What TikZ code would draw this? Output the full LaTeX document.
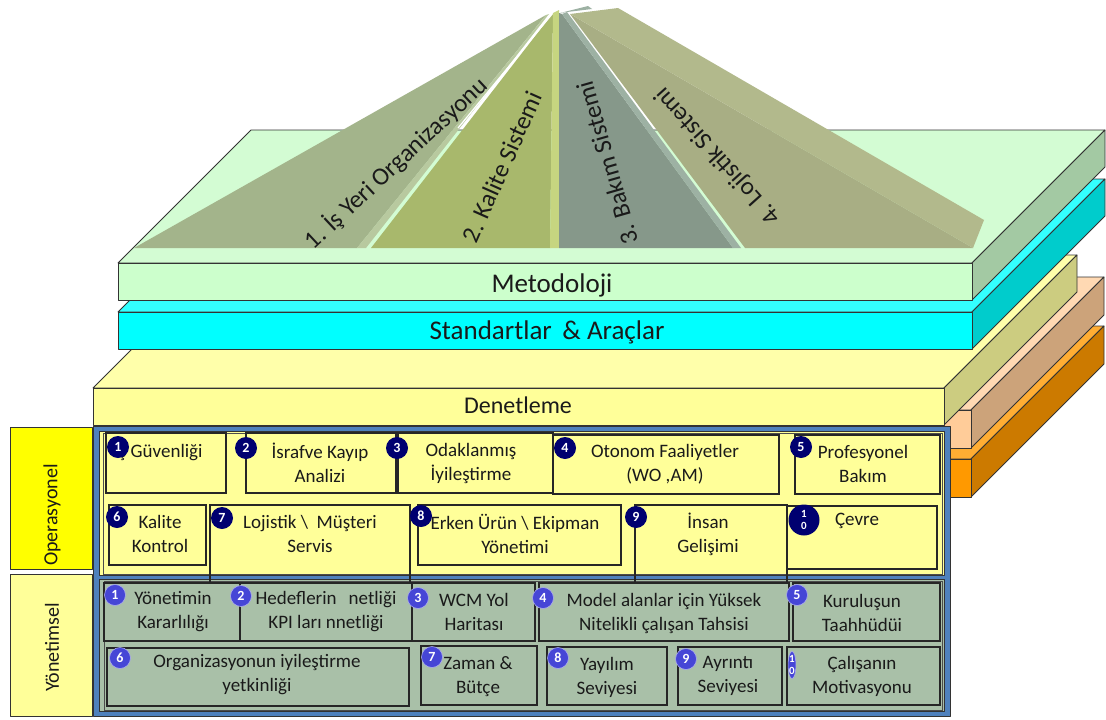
\documentclass[tikz,border=0pt]{standalone}
\usepackage{fontspec}
\setmainfont{Carlito}
\usetikzlibrary{shapes.geometric}

% slab colours
\definecolor{metfront}{HTML}{CCFFCC}\definecolor{mettop}{HTML}{D3FCD3}\definecolor{metside}{HTML}{A3C9A3}
\definecolor{cyfront}{HTML}{00FFFF}\definecolor{cytop}{HTML}{33FFFF}\definecolor{cyside}{HTML}{00CCCC}
\definecolor{yefront}{HTML}{FFFF99}\definecolor{yetop}{HTML}{FFFFAA}\definecolor{yeside}{HTML}{CCCC80}
\definecolor{pefront}{HTML}{FFCC99}\definecolor{petop}{HTML}{FFD9B3}\definecolor{peside}{HTML}{CCA37A}
\definecolor{orfront}{HTML}{FF9900}\definecolor{ortop}{HTML}{FFAD33}\definecolor{orside}{HTML}{CC7A00}
% pyramid colours
\definecolor{pyrA}{HTML}{A3B48B}\definecolor{pyrAs}{HTML}{B8C99F}
\definecolor{pyrB}{HTML}{A8B86C}\definecolor{pyrBs}{HTML}{C6D580}
\definecolor{pyrC}{HTML}{86988A}\definecolor{pyrCs}{HTML}{9DB1A3}
\definecolor{pyrD}{HTML}{A8AE84}\definecolor{pyrDs}{HTML}{B2B98C}
% frame colours
\definecolor{frameblue}{HTML}{4F81BD}
\definecolor{opfill}{HTML}{FFFF99}
\definecolor{mgfill}{HTML}{A9C0A8}
\definecolor{oplabel}{HTML}{FFFF00}
\definecolor{badgenavy}{HTML}{000070}
\definecolor{badgeblue}{HTML}{4646D6}
\definecolor{ink}{HTML}{1A1A1A}

% a 3D slab: x-left, y-top, x-right, y-bottom, front, top, side
\newcommand{\slabbox}[7]{%
  \filldraw[edge, fill=#6] (#1,#2) -- (#3,#2) -- (#3+133,#2-133) -- (#1+133,#2-133) -- cycle;
  \filldraw[edge, fill=#7] (#3,#2) -- (#3+133,#2-133) -- (#3+133,#4-133) -- (#3,#4) -- cycle;
  \filldraw[edge, fill=#5] (#1,#2) rectangle (#3,#4);
}

\begin{document}
\begin{tikzpicture}[x=1pt,y=-1pt,
  edge/.style={draw=black!80, line width=0.8pt, line join=round},
  cell/.style={draw=black!85, line width=1.1pt, rectangle, inner sep=0},
  txt/.style={font=\fontsize{19}{24}\selectfont, text=ink, align=center, inner sep=0},
  bigtxt/.style={font=\fontsize{27}{30}\selectfont, text=ink, inner sep=0},
  pyrtxt/.style={font=\fontsize{25}{28}\selectfont, text=ink, inner sep=0},
  sidetxt/.style={font=\fontsize{20}{22}\selectfont, text=ink, inner sep=0, rotate=90},
  obadge/.style={circle, fill=badgenavy, text=white, font=\bfseries\fontsize{14}{14}\selectfont, inner sep=0, minimum size=22pt},
  ybadge/.style={circle, fill=badgeblue, draw=white!55!badgeblue, line width=0.6pt, text=white, font=\bfseries\fontsize{14}{14}\selectfont, inner sep=0, minimum size=21pt},
  twodigit/.style={font=\bfseries\fontsize{11}{12}\selectfont, align=center}
]
\useasboundingbox (0,0) rectangle (1106,720);
\fill[white] (0,0) rectangle (1106,720);

% stacked slabs, lowest first
\slabbox{120}{459}{971}{497}{orfront}{ortop}{orside}
\slabbox{120}{410}{971}{448}{pefront}{petop}{peside}
\slabbox{93}{388}{944}{425}{yefront}{yetop}{yeside}
\slabbox{118}{312}{972}{349}{cyfront}{cytop}{cyside}
\slabbox{118}{263}{972}{300}{metfront}{mettop}{metside}

\node[bigtxt] (metodoloji) at (552,285) {Metodoloji};
\node[bigtxt] (standart) at (547,332) {Standartlar \,\& Araçlar};
\node[bigtxt, font=\fontsize{24}{26}\selectfont] (denetleme) at (518,405) {Denetleme};

% four pillars of the pyramid
\fill[pyrA] (134,248) -- (357,248) -- (546,15) -- cycle;
\fill[pyrAs] (357,248) -- (366,248) -- (549,14) -- (546,15) -- cycle;
\fill[pyrB] (371,248) -- (550,248) -- (553,13) -- cycle;
\draw[white, line width=1.2pt] (553,13) -- (458,128);
\fill[pyrBs] (550,248) -- (559,248) -- (559,10) -- (553,13) -- cycle;
\fill[pyrC] (559,248) -- (733,248) -- (562,14) -- (559,13) -- cycle;
\fill[pyrCs] (733,248) -- (741,248) -- (567,12) -- (562,14) -- cycle;
\fill[pyrCs] (560,13) -- (588,6) -- (592,9) -- (567,12) -- cycle;
\fill[pyrD] (745,248) -- (973,248) -- (570,14) -- cycle;
\fill[pyrDs] (570,14) -- (618,8) -- (984,220) -- (973,248) -- cycle;

\node[pyrtxt, rotate=43] (pil1) at (396,163) {1. İş Yeri Organizasyonu};
\node[pyrtxt, rotate=66] (pil2) at (502,167) {2. Kalite Sistemi};
\node[pyrtxt, rotate=106] (pil3) at (607,163) {3. Bakım Sistemi};
\node[pyrtxt, rotate=132] (pil4) at (718,156) {4. Lojistik Sistemi};

% side labels
\filldraw[edge, fill=oplabel] (10,427) rectangle (92,569);
\filldraw[edge, fill=opfill] (10,574) rectangle (92,716);
\node[sidetxt] (oplbl) at (52,515) {Operasyonel};
\node[sidetxt] (yonlbl) at (52,647) {Yönetimsel};

% framed grid
\filldraw[edge, fill=frameblue] (93,426) rectangle (950,716);
\filldraw[edge, fill=opfill] (99,431) rectangle (944,575);
\filldraw[edge, fill=mgfill] (99,579) rectangle (944,711);
\draw[black!70, line width=0.6pt] (103,433) rectangle (942,574);
\draw[black!70, line width=0.6pt] (104,581) rectangle (942,710);

% operational cells
\node[cell, minimum width=120, minimum height=60] (b1) at (166,463) {};
\node[cell, minimum width=150, minimum height=60] (b2) at (321,463) {};
\node[cell, minimum width=155, minimum height=60] (b3) at (475.5,463) {};
\node[cell, minimum width=226, minimum height=59] (b4) at (666,464.5) {};
\node[cell, minimum width=145, minimum height=59] (b5) at (867.5,464.5) {};
\node[cell, minimum width=97, minimum height=60] (b6) at (157.5,535) {};
\node[cell, minimum width=200, minimum height=78] (b7) at (310,544) {};
\node[cell, minimum width=203, minimum height=60] (b8) at (519.5,535) {};
\node[cell, minimum width=152, minimum height=78] (b9) at (711,544) {};
\node[cell, minimum width=150, minimum height=63] (b10) at (862,537.5) {};

% management cells
\node[cell, minimum width=136, minimum height=58] (y1) at (172,612) {};
\node[cell, minimum width=172, minimum height=58] (y2) at (326,612) {};
\node[cell, minimum width=123, minimum height=58] (y3) at (473.5,612) {};
\node[cell, minimum width=250, minimum height=58] (y4) at (664,612) {};
\node[cell, minimum width=147, minimum height=58] (y5) at (866.5,612) {};
\node[cell, minimum width=302, minimum height=58] (y6) at (258,677) {};
\node[cell, minimum width=116, minimum height=59] (y7) at (479,675.5) {};
\node[cell, minimum width=120, minimum height=58] (y8) at (607,676) {};
\node[cell, minimum width=104, minimum height=58] (y9) at (730,676) {};
\node[cell, minimum width=153, minimum height=58] (y10) at (863.5,676) {};

% operational texts
\node[txt, anchor=west] (tb1) at (114,451) {İş Güvenliği};
\node[txt] (tb2) at (320,463) {İsrafve Kayıp\\Analizi};
\node[txt] (tb3) at (471,463) {Odaklanmış\\İyileştirme};
\node[txt] (tb4) at (665,464) {Otonom Faaliyetler\\(WO ,AM)};
\node[txt] (tb5) at (863,464) {Profesyonel\\Bakım};
\node[txt] (tb6) at (160,534) {Kalite\\Kontrol};
\node[txt] (tb7) at (310,534) {Lojistik \textbackslash\ \ Müşteri\\Servis};
\node[txt] (tb8) at (515,534) {Erken Ürün \textbackslash{} Ekipman\\Yönetimi};
\node[txt] (tb9) at (708,534) {İnsan\\Gelişimi};
\node[txt] (tb10) at (857,521) {Çevre};

% management texts
\node[txt] (ty1) at (173,612) {Yönetimin\\Kararlılığı};
\node[txt] (ty2) at (326,612) {Hedeflerin\hspace{12pt}netliği\\KPI ları nnetliği};
\node[txt] (ty3) at (474,612) {WCM Yol\\Haritası};
\node[txt] (ty4) at (664,613) {Model alanlar için Yüksek\\Nitelikli çalışan Tahsisi};
\node[txt] (ty5) at (862,613) {Kuruluşun\\Taahhüdüi};
\node[txt] (ty6) at (257,675) {Organizasyonun iyileştirme\\yetkinliği};
\node[txt] (ty7) at (478,677) {Zaman \&\\Bütçe};
\node[txt] (ty8) at (607,677) {Yayılım\\Seviyesi};
\node[txt] (ty9) at (728,676) {Ayrıntı\\Seviyesi};
\node[txt] (ty10) at (862,676) {Çalışanın\\Motivasyonu};

% operational badges
\node[obadge] (ob1) at (118,447) {1};
\node[obadge] (ob2) at (246,448) {2};
\node[obadge] (ob3) at (397,448) {3};
\node[obadge] (ob4) at (565,448) {4};
\node[obadge] (ob5) at (801,447) {5};
\node[obadge] (ob6) at (117,517) {6};
\node[obadge] (ob7) at (222,518) {7};
\node[obadge] (ob8) at (421,516) {8};
\node[obadge] (ob9) at (636,517) {9};
\node[obadge, minimum size=31pt, twodigit] (ob10) at (804,520) {1\\0};

% management badges
\node[ybadge] (yb1) at (115,595) {1};
\node[ybadge] (yb2) at (241,596) {2};
\node[ybadge] (yb3) at (418,598) {3};
\node[ybadge] (yb4) at (543,598) {4};
\node[ybadge] (yb5) at (797,595) {5};
\node[ybadge] (yb6) at (120,658) {6};
\node[ybadge] (yb7) at (432,657) {7};
\node[ybadge] (yb8) at (558,658) {8};
\node[ybadge] (yb9) at (686,659) {9};
\node[ybadge, ellipse, minimum width=16pt, minimum height=31pt, minimum size=0pt, twodigit] (yb10) at (792,665) {1\\0};
\end{tikzpicture}
\end{document}
